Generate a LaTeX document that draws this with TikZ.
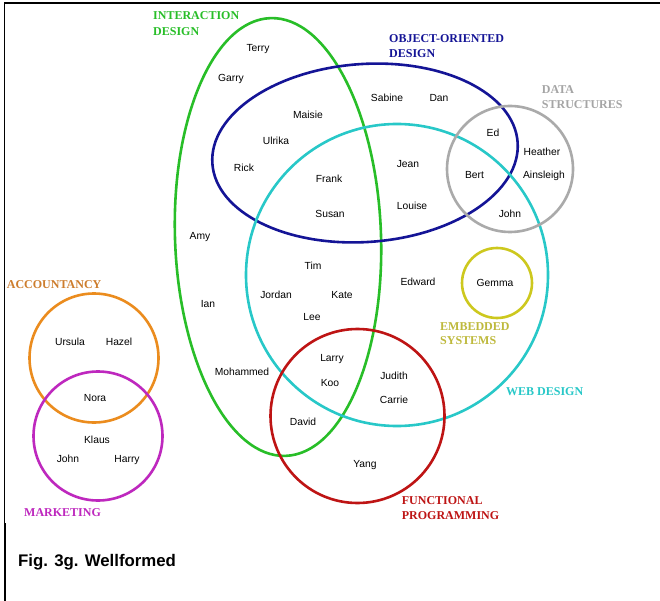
\documentclass[tikz,border=0pt]{standalone}
\usepackage{fontspec}
\setmainfont{Liberation Serif}
\setsansfont{Liberation Sans}
\newfontfamily\labelfont{Liberation Serif}
\newfontfamily\namefont{Liberation Sans}
\begin{document}
\begin{tikzpicture}[x=1pt,y=-1pt,
  ring/.style={line width=2.6pt},
  who/.style={font=\namefont\fontsize{10.3}{12}\selectfont, text=black,
    inner sep=0pt, text height=7.4pt, text depth=0pt, anchor=center},
  setname/.style={font=\labelfont\bfseries\fontsize{12}{14}\selectfont,
    inner sep=0pt, text height=7.9pt, text depth=0pt, anchor=west},
  caption/.style={font=\namefont\bfseries\fontsize{16.8}{19}\selectfont,
    inner sep=0pt, text height=12pt, text depth=0pt, anchor=west}]
\definecolor{idgreen}{RGB}{40,190,40}
\definecolor{oonavy}{RGB}{20,20,150}
\definecolor{webcyan}{RGB}{40,200,200}
\definecolor{dsgray}{RGB}{170,170,170}
\definecolor{dstext}{RGB}{165,165,165}
\definecolor{emyellow}{RGB}{205,200,30}
\definecolor{emtext}{RGB}{190,185,60}
\definecolor{fpred}{RGB}{190,20,20}
\definecolor{accorange}{RGB}{235,140,30}
\definecolor{acctext}{RGB}{205,125,45}
\definecolor{mkmagenta}{RGB}{190,40,190}

% page and frame
\useasboundingbox (0,0) rectangle (660,601);
\fill[white] (0,0) rectangle (660,601);
\draw[line width=2pt] (4,3) -- (660,3);
\draw[line width=1.2pt] (4.5,3) -- (4.5,523);
\draw[line width=2pt] (5,523) -- (5,601);

% the sets
\draw[ring, idgreen, rotate around={2:(278,237)}] (278,237) ellipse [x radius=103, y radius=219];
\draw[ring, oonavy, rotate around={4:(365,153)}] (365,153) ellipse [x radius=153, y radius=89];
\draw[ring, webcyan] (397,275) circle [radius=151];
\draw[ring, dsgray] (510,169) circle [radius=63];
\draw[ring, emyellow] (497,283) circle [radius=35];
\draw[ring, fpred] (357.5,416) circle [radius=87];
\draw[ring, accorange] (94,358) circle [radius=64.5];
\draw[ring, mkmagenta] (98,436) circle [radius=64.5];

% set labels
\node[setname, text=idgreen] (lid1) at (153,16) {INTERACTION};
\node[setname, text=idgreen] (lid2) at (153,31.5) {DESIGN};
\node[setname, text=oonavy] (loo1) at (389,38.5) {OBJECT-ORIENTED};
\node[setname, text=oonavy] (loo2) at (389,53.3) {DESIGN};
\node[setname, text=dstext] (lds1) at (541.7,89.3) {DATA};
\node[setname, text=dstext] (lds2) at (541.7,104.3) {STRUCTURES};
\node[setname, text=acctext] (lacc) at (6.7,284.3) {ACCOUNTANCY};
\node[setname, text=mkmagenta] (lmk) at (24,512.8) {MARKETING};
\node[setname, text=emtext] (lem1) at (440,326.7) {EMBEDDED};
\node[setname, text=emtext] (lem2) at (440,341) {SYSTEMS};
\node[setname, text=webcyan] (lweb) at (506,391.7) {WEB DESIGN};
\node[setname, text=fpred] (lfp1) at (401.7,501) {FUNCTIONAL};
\node[setname, text=fpred] (lfp2) at (401.7,515.3) {PROGRAMMING};

% members
\node[who] (terry) at (258,48) {Terry};
\node[who] (garry) at (231,78) {Garry};
\node[who] (maisie) at (308,115) {Maisie};
\node[who] (sabine) at (387,98) {Sabine};
\node[who] (dan) at (439,98) {Dan};
\node[who] (ulrika) at (276,141) {Ulrika};
\node[who] (rick) at (244,168) {Rick};
\node[who] (frank) at (329,179) {Frank};
\node[who] (susan) at (330,214) {Susan};
\node[who] (jean) at (408,164) {Jean};
\node[who] (louise) at (412,206) {Louise};
\node[who] (amy) at (200,236) {Amy};
\node[who] (ed) at (493,133) {Ed};
\node[who] (heather) at (542,152) {Heather};
\node[who] (bert) at (474.5,175) {Bert};
\node[who] (ainsleigh) at (544,175) {Ainsleigh};
\node[who] (johnds) at (510,214) {John};
\node[who] (tim) at (313,266) {Tim};
\node[who] (jordan) at (276,295) {Jordan};
\node[who] (kate) at (342,295) {Kate};
\node[who] (lee) at (312,317) {Lee};
\node[who] (ian) at (208,304) {Ian};
\node[who] (edward) at (418,282) {Edward};
\node[who] (gemma) at (495,283) {Gemma};
\node[who] (mohammed) at (242,372) {Mohammed};
\node[who] (larry) at (332,358) {Larry};
\node[who] (koo) at (330,383) {Koo};
\node[who] (judith) at (394,376) {Judith};
\node[who] (carrie) at (394,400) {Carrie};
\node[who] (david) at (303,422) {David};
\node[who] (yang) at (365,464) {Yang};
\node[who] (ursula) at (70,342) {Ursula};
\node[who] (hazel) at (119,342) {Hazel};
\node[who] (nora) at (95,398) {Nora};
\node[who] (klaus) at (97,440) {Klaus};
\node[who] (johnmk) at (68,459) {John};
\node[who] (harry) at (127,459) {Harry};

% caption
\node[caption] (cap) at (18,560) {Fig. 3g. Wellformed};
\end{tikzpicture}
\end{document}
